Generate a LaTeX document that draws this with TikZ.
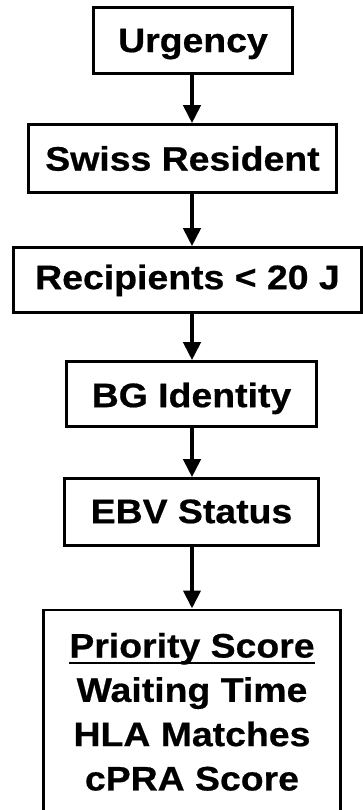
\documentclass[tikz,border=0pt]{standalone}
\usepackage{fontspec}
\setmainfont{Liberation Sans}[FakeStretch=1.1, BoldFeatures={FakeBold=0.6}]
\usetikzlibrary{arrows.meta}
\newsavebox\ulbox
\newcommand\psul[1]{\sbox\ulbox{#1}\rlap{\rule[-6.3pt]{\wd\ulbox}{1.8pt}}\usebox\ulbox}
\tikzset{
  stepbox/.style={draw, line width=2.6pt, inner sep=0pt, text depth=0pt,
    font=\bfseries\fontsize{34}{44.3}\selectfont},
  arr/.style={line width=4pt, -{Triangle[width=17pt,length=18pt]}}
}
\begin{document}
\begin{tikzpicture}[x=1pt,y=-1pt]
\useasboundingbox (0,0) rectangle (363,810);
\clip (0,0) rectangle (363,810);
\fill[white] (0,0) rectangle (363,810);
\coordinate (ax) at (192,0);
\node[stepbox, minimum width=199pt, minimum height=66pt, text height=23.3pt] (u) at (193,40.5) {Urgency};
\node[stepbox, minimum width=308pt, minimum height=68pt, text height=24.3pt] (s) at (182.5,158.5) {Swiss Resident};
\node[stepbox, minimum width=348pt, minimum height=65pt, text height=18.3pt] (r) at (187.5,280) {Recipients < 20 J};
\node[stepbox, minimum width=250pt, minimum height=65pt, text height=26.3pt] (b) at (191.5,394) {BG Identity};
\node[stepbox, minimum width=254pt, minimum height=67pt, text height=22.3pt] (e) at (191.5,512) {EBV Status};
\node[draw, line width=2.6pt, minimum width=297pt, minimum height=240pt, anchor=north] (p) at (192,608.5) {};
\node[inner sep=0pt, align=center, anchor=north, font=\bfseries\fontsize{34}{44.3}\selectfont] (pt) at (192,632.7) {\psul{Priority Score}\\Waiting Time\\HLA Matches\\cPRA Score};
\draw[arr] (u.south -| ax) -- (s.north -| ax);
\draw[arr] (s.south -| ax) -- (r.north -| ax);
\draw[arr] (r.south -| ax) -- (b.north -| ax);
\draw[arr] (b.south -| ax) -- (e.north -| ax);
\draw[arr] (e.south -| ax) -- (p.north -| ax);
\end{tikzpicture}
\end{document}
